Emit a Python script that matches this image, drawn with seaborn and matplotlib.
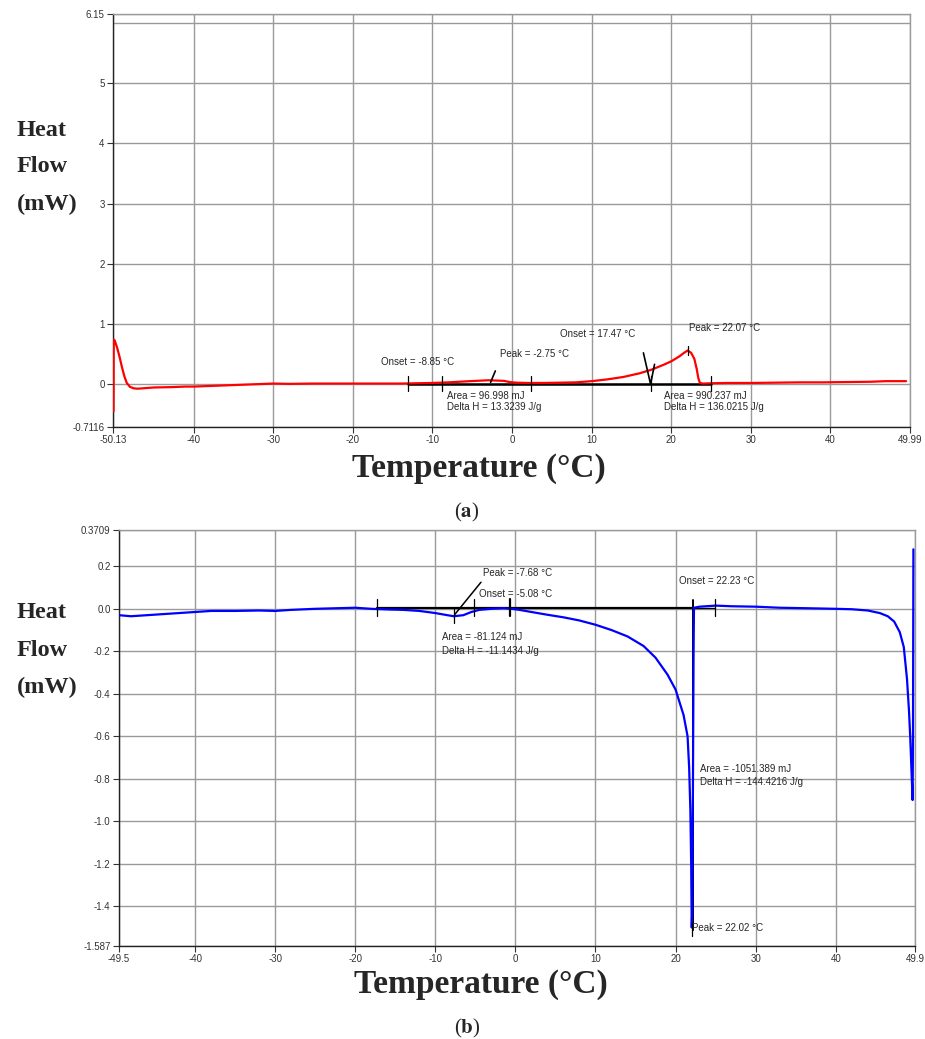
import matplotlib
matplotlib.use("Agg")
import matplotlib.pyplot as plt
import seaborn as sns
import pandas as pd

# (a) heating curve, red
top_temp = [-50.06, -50.04, -50.0, -49.9, -49.6, -49.3, -49.0, -48.7, -48.4, -48.0,
            -47.5, -47.0, -46.0, -45.0, -43.0, -41.0, -40.0, -38.0, -36.0, -34.0,
            -32.0, -30.0, -28.0, -25.0, -22.0, -20.0, -17.0, -14.0, -12.0, -10.0,
            -8.0, -6.0, -4.5, -3.0, -2.0, -1.0, -0.3, 0.5, 2.0, 4.0,
            6.0, 8.0, 10.0, 12.0, 14.0, 16.0, 17.5, 19.0, 20.0, 21.0,
            21.6, 22.07, 22.5, 22.9, 23.2, 23.4, 23.6, 24.0, 25.0, 27.0,
            30.0, 33.0, 36.0, 39.0, 42.0, 45.0, 47.0, 49.5]
top_flow = [-0.45, 0.68, 0.74, 0.72, 0.60, 0.45, 0.28, 0.13, 0.02, -0.045,
            -0.07, -0.075, -0.065, -0.055, -0.05, -0.04, -0.04, -0.03, -0.02, -0.01,
            0.0, 0.01, 0.005, 0.01, 0.01, 0.01, 0.01, 0.01, 0.015, 0.02,
            0.03, 0.045, 0.055, 0.065, 0.06, 0.055, 0.035, 0.025, 0.02, 0.02,
            0.025, 0.03, 0.05, 0.08, 0.12, 0.18, 0.24, 0.32, 0.38, 0.46,
            0.52, 0.56, 0.52, 0.42, 0.25, 0.10, 0.02, 0.01, 0.015, 0.02,
            0.02, 0.025, 0.03, 0.03, 0.035, 0.04, 0.05, 0.05]

# (b) cooling curve, blue
bot_temp = [-49.5, -48, -46, -44, -42, -40, -38, -35, -32, -30,
            -28, -25, -22, -20, -18, -16, -14, -12, -10, -8.5,
            -7.68, -6.5, -5.5, -4.5, -3, -1.5, -0.5, 0.5, 2, 4,
            6, 8, 10, 12, 14, 16, 17.5, 19, 20, 21,
            21.5, 21.7, 21.85, 21.95, 22.02, 22.1, 22.2, 22.25, 22.3, 23,
            25, 27, 30, 33, 36, 40, 42, 44, 45.5, 46.5,
            47.3, 48, 48.5, 48.9, 49.15, 49.3, 49.45, 49.55, 49.6, 49.65, 49.7]
bot_flow = [-0.03, -0.035, -0.03, -0.025, -0.02, -0.015, -0.01, -0.01, -0.008, -0.01,
            -0.005, 0.0, 0.003, 0.005, 0.0, -0.003, -0.005, -0.01, -0.02, -0.03,
            -0.035, -0.03, -0.015, -0.005, 0.0, 0.003, 0.0, -0.005, -0.015, -0.028,
            -0.04, -0.055, -0.075, -0.10, -0.13, -0.175, -0.23, -0.31, -0.38, -0.50,
            -0.60, -0.75, -0.95, -1.2, -1.5, -1.4, -0.6, -0.2, 0.005, 0.01,
            0.015, 0.012, 0.01, 0.005, 0.003, 0.0, -0.002, -0.008, -0.02, -0.035,
            -0.06, -0.11, -0.18, -0.33, -0.48, -0.6, -0.75, -0.85, -0.9, -0.6, 0.28]

top_xticks = [-50.13, -40, -30, -20, -10, 0, 10, 20, 30, 40, 49.99]
top_xlabels = ["-50.13", "-40", "-30", "-20", "-10", "0", "10", "20", "30", "40", "49.99"]
top_yticks = [-0.7116, 0, 1, 2, 3, 4, 5, 6.15]
top_ylabels = ["-0.7116", "0", "1", "2", "3", "4", "5", "6.15"]

bot_xticks = [-49.5, -40, -30, -20, -10, 0, 10, 20, 30, 40, 49.9]
bot_xlabels = ["-49.5", "-40", "-30", "-20", "-10", "0", "10", "20", "30", "40", "49.9"]
bot_yticks = [-1.587, -1.4, -1.2, -1.0, -0.8, -0.6, -0.4, -0.2, 0.0, 0.2, 0.3709]
bot_ylabels = ["-1.587", "-1.4", "-1.2", "-1.0", "-0.8", "-0.6", "-0.4", "-0.2", "0.0", "0.2", "0.3709"]

sns.set_style("white")
plt.rcParams["font.family"] = ["Liberation Sans", "DejaVu Sans"]
plt.rcParams["mathtext.fontset"] = "stix"

fig = plt.figure(figsize=(9.25, 10.39), dpi=100)
ax1 = fig.add_axes([113 / 925, 1 - 427 / 1039, 797 / 925, 413 / 1039])
ax2 = fig.add_axes([119 / 925, 1 - 946 / 1039, 796 / 925, 416 / 1039])

df_top = pd.DataFrame({"T": top_temp, "HF": top_flow})
df_bot = pd.DataFrame({"T": bot_temp, "HF": bot_flow})

sns.lineplot(data=df_top, x="T", y="HF", ax=ax1, color="#ff0000", lw=1.6,
             sort=False, estimator=None, zorder=3)
sns.lineplot(data=df_bot, x="T", y="HF", ax=ax2, color="#0000ff", lw=1.6,
             sort=False, estimator=None, zorder=3)


def style_axes(ax, xt, xl, yt, yl):
    ax.set_xlim(xt[0], xt[-1])
    ax.set_ylim(yt[0], yt[-1])
    ax.set_xticks(xt)
    ax.set_xticklabels(xl)
    ax.set_yticks(yt)
    ax.set_yticklabels(yl)
    ax.grid(True, color="#9a9a9a", lw=1.0)
    ax.set_axisbelow(True)
    ax.tick_params(axis="both", labelsize=7, colors="#333333", length=4,
                   width=0.8, direction="out", pad=2)
    ax.tick_params(bottom=True, left=True)
    for s in ["top", "right"]:
        ax.spines[s].set_color("#9a9a9a")
        ax.spines[s].set_linewidth(1.0)
    for s in ["left", "bottom"]:
        ax.spines[s].set_color("#222222")
        ax.spines[s].set_linewidth(1.0)
    ax.set_xlabel("")
    ax.set_ylabel("")


style_axes(ax1, top_xticks, top_xlabels, top_yticks, top_ylabels)
style_axes(ax2, bot_xticks, bot_xlabels, bot_yticks, bot_ylabels)
ax1.axhline(6, color="#9a9a9a", lw=1.0, zorder=0)

fs = 7
k = "black"

# annotations (a)
ax1.plot([-13.1, 25.0], [0.0, 0.0], color=k, lw=1.8, zorder=2)
for t in [-13.1, -8.85, 2.4, 17.4, 25.0]:
    ax1.plot([t, t], [-0.11, 0.13], color=k, lw=0.9, zorder=4)
ax1.plot([22.07, 22.07], [0.48, 0.64], color=k, lw=0.9, zorder=4)
ax1.plot([-2.1, -2.7], [0.22, 0.03], color=k, lw=1.2, zorder=4)
ax1.plot([16.5, 17.4, 17.9], [0.52, 0.0, 0.33], color=k, lw=1.2, zorder=4)
ax1.text(-16.5, 0.37, "Onset = -8.85 °C", fontsize=fs, va="center")
ax1.text(-1.5, 0.50, "Peak = -2.75 °C", fontsize=fs, va="center")
ax1.text(-8.2, -0.2, "Area = 96.998 mJ", fontsize=fs, va="center")
ax1.text(-8.2, -0.38, "Delta H = 13.3239 J/g", fontsize=fs, va="center")
ax1.text(6.0, 0.83, "Onset = 17.47 °C", fontsize=fs, va="center")
ax1.text(22.2, 0.93, "Peak = 22.07 °C", fontsize=fs, va="center")
ax1.text(19.1, -0.2, "Area = 990.237 mJ", fontsize=fs, va="center")
ax1.text(19.1, -0.38, "Delta H = 136.0215 J/g", fontsize=fs, va="center")

# annotations (b)
ax2.plot([-17.3, 22.23], [0.006, 0.006], color=k, lw=1.6, zorder=2)
ax2.plot([22.23, 24.9], [0.006, 0.006], color=k, lw=1.0, zorder=2)
for t in [-17.3, -5.2, 24.9]:
    ax2.plot([t, t], [-0.035, 0.045], color=k, lw=0.9, zorder=4)
ax2.plot([-0.7, -0.7], [-0.035, 0.045], color=k, lw=1.6, zorder=4)
ax2.plot([-7.68, -7.68], [-0.065, 0.0], color=k, lw=0.9, zorder=4)
ax2.plot([-4.3, -7.6], [0.125, -0.028], color=k, lw=1.1, zorder=4)
ax2.plot([22.23, 22.23], [0.04, -1.51], color=k, lw=1.4, zorder=2)
ax2.plot([22.02, 22.02], [-1.48, -1.54], color=k, lw=0.9, zorder=4)
ax2.text(-4.1, 0.17, "Peak = -7.68 °C", fontsize=fs, va="center")
ax2.text(-4.6, 0.07, "Onset = -5.08 °C", fontsize=fs, va="center")
ax2.text(-9.2, -0.135, "Area = -81.124 mJ", fontsize=fs, va="center")
ax2.text(-9.2, -0.198, "Delta H = -11.1434 J/g", fontsize=fs, va="center")
ax2.text(20.4, 0.133, "Onset = 22.23 °C", fontsize=fs, va="center")
ax2.text(23.0, -0.755, "Area = -1051.389 mJ", fontsize=fs, va="center")
ax2.text(23.0, -0.816, "Delta H = -144.4216 J/g", fontsize=fs, va="center")
ax2.text(22.1, -1.5, "Peak = 22.02 °C", fontsize=fs, va="center")

# figure labels
serif = dict(family=["Liberation Serif", "DejaVu Serif"], fontweight="bold")
for y0 in [130, 613]:
    for i, s in enumerate(["Heat", "Flow", "(mW)"]):
        fig.text(17 / 925, 1 - (y0 + i * 37) / 1039, s, fontsize=17.5, ha="left",
                 va="center", **serif)
fig.text(479 / 925, 1 - 469 / 1039, "Temperature (°C)", fontsize=24, ha="center",
         va="center", **serif)
fig.text(481 / 925, 1 - 984 / 1039, "Temperature (°C)", fontsize=24, ha="center",
         va="center", **serif)
fig.text(467 / 925, 1 - 512 / 1039, r"($\mathbf{a}$)", fontsize=15, ha="center",
         va="center", family=["Liberation Serif", "DejaVu Serif"])
fig.text(467 / 925, 1 - 1028 / 1039, r"($\mathbf{b}$)", fontsize=15, ha="center",
         va="center", family=["Liberation Serif", "DejaVu Serif"])

fig.savefig("out.png", dpi=100, facecolor="white")
